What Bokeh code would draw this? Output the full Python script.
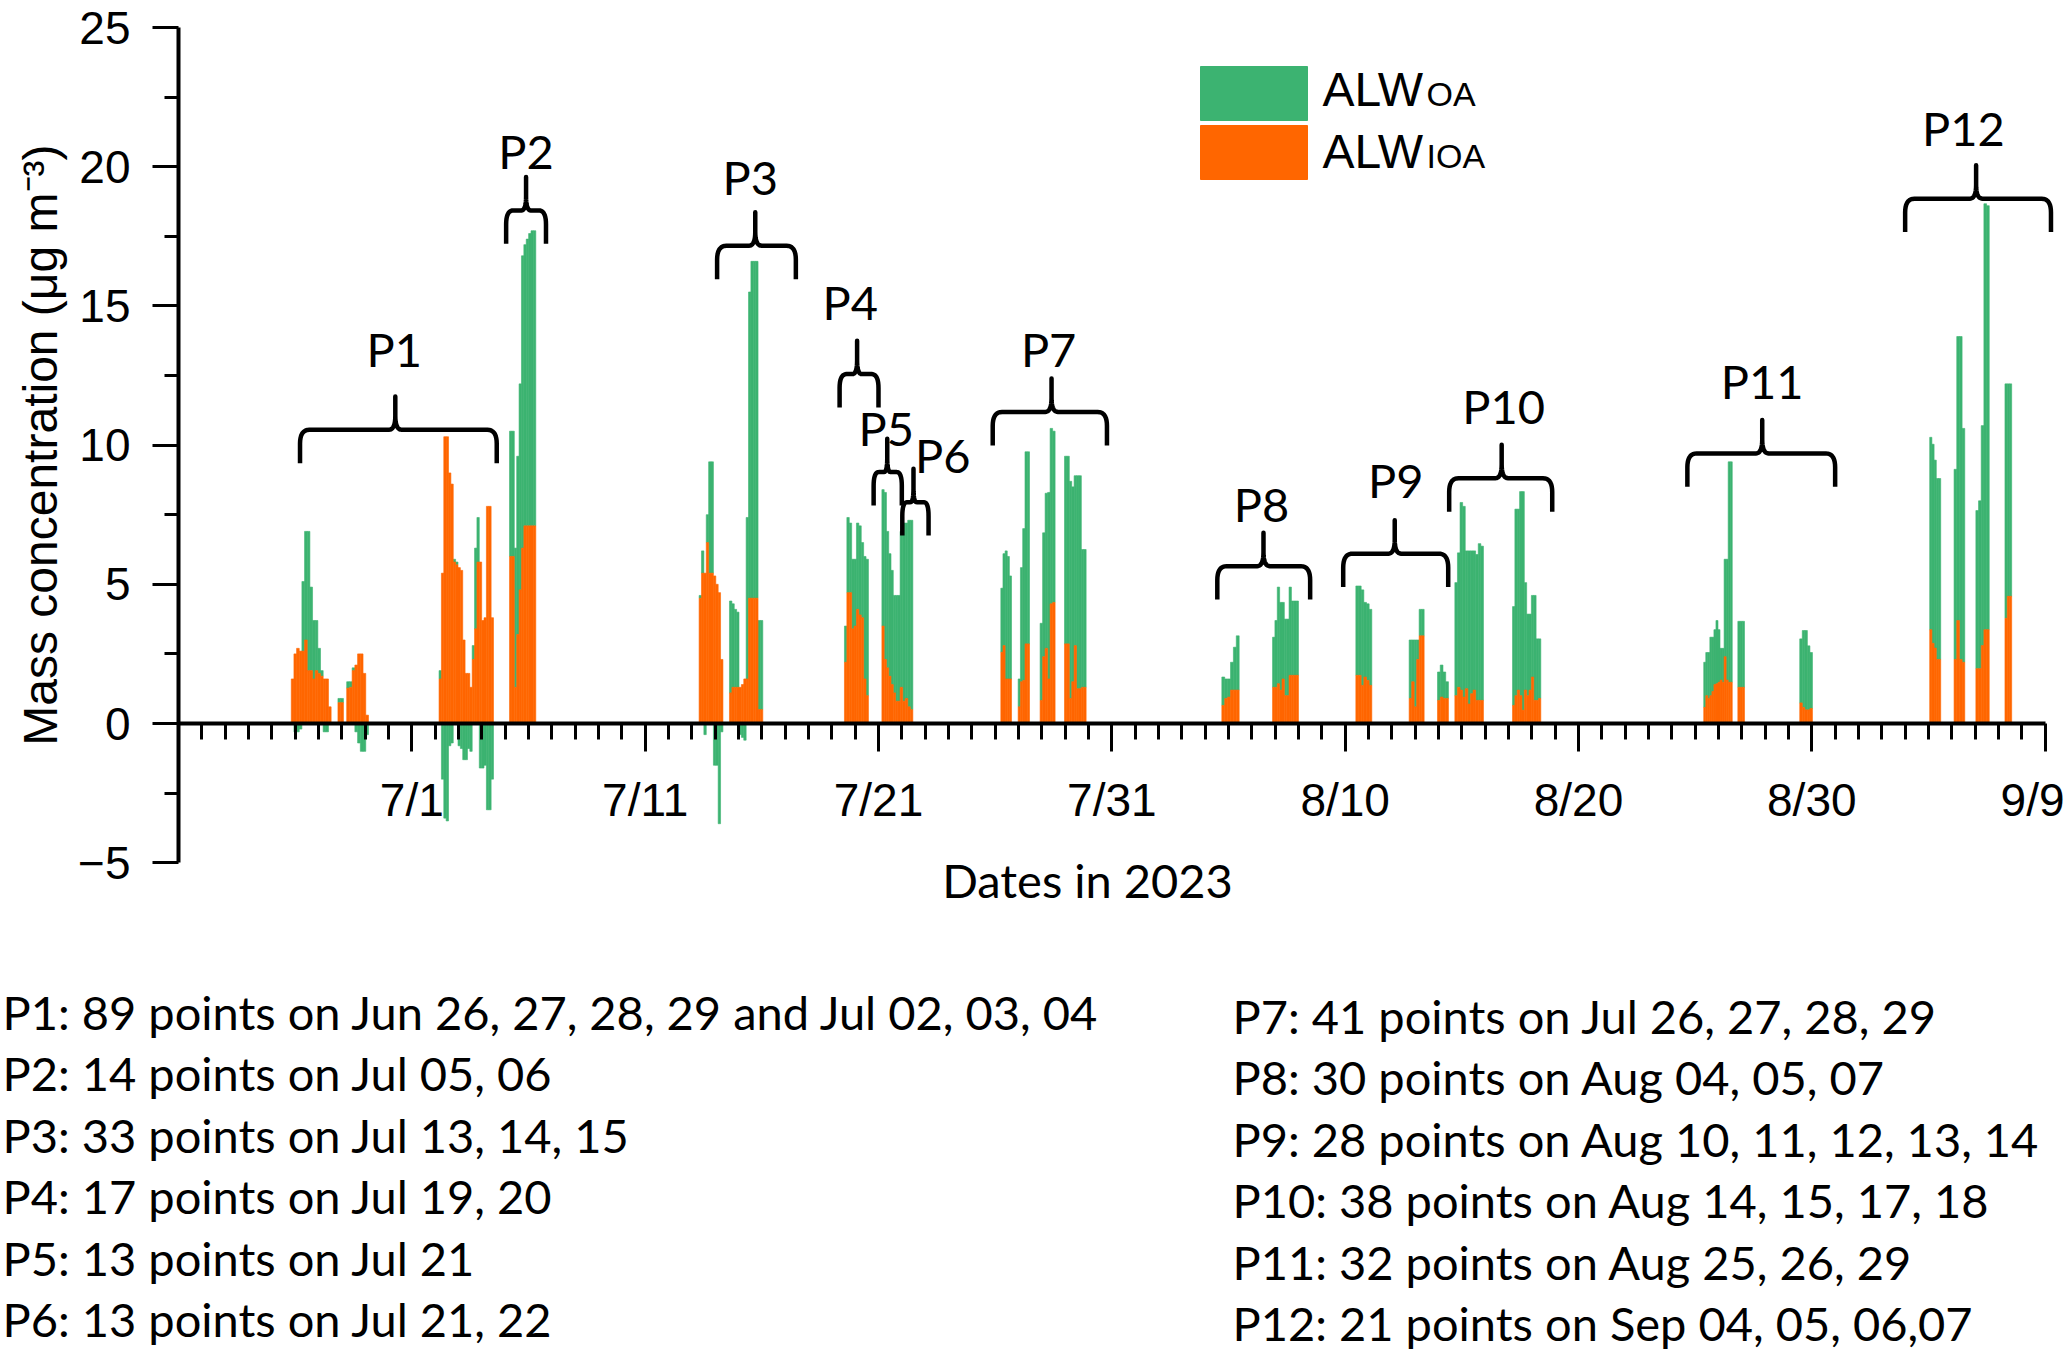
import numpy as np
import pandas as pd
from bokeh.plotting import figure
from bokeh.models import Range1d, FixedTicker
from bokeh.core.properties import value
from bokeh.embed import file_html
from bokeh.resources import INLINE

# ---------------- data ----------------
ORIGIN = "2023-06-21 00:00"

x_tick_days = [10, 20, 30, 40, 50, 60, 70, 80]
x_tick_labels = ["7/1", "7/11", "7/21", "7/31", "8/10", "8/20", "8/30", "9/9"]
y_ticks = [-5, 0, 5, 10, 15, 20, 25]
y_minor = [-2.5, 2.5, 7.5, 12.5, 17.5, 22.5]

# each run of bars: start, end, ALW_IOA values, ALW_OA values
p1a_start, p1a_end = "2023-06-25 20:00", "2023-06-27 13:00"
p1a_ioa = [1.6, 2.5, 2.7, 2.6, 2.6, 3.0, 1.9, 1.9, 1.6, 1.9, 1.8, 1.7, 1.6, 1.6, 0.6]
p1a_oa = [0.0, -0.3, -0.3, -0.2, 2.5, 3.9, 5.0, 3.0, 2.1, 1.8, 0.9, 0.2, -0.3, -0.3, 0.0]

p1b_start, p1b_end = "2023-06-27 20:00", "2023-06-28 01:40"
p1b_ioa = [0.75, 0.75]
p1b_oa = [0.15, 0.15]

p1c_start, p1c_end = "2023-06-28 05:00", "2023-06-29 03:25"
p1c_ioa = [1.27, 1.3, 1.9, 2.1, 2.5, 2.5, 1.8, 0.3]
p1c_oa = [0.23, 0.2, 0.1, -0.3, -0.7, -1.0, -1.0, -0.4]

p1d_start, p1d_end = "2023-07-02 04:00", "2023-07-04 12:00"
p1d_ioa = [1.6, 5.4, 10.3, 10.3, 9.0, 8.6, 5.8, 5.7, 5.6, 5.5, 3.0, 1.8,
           1.8, 1.3, 2.3, 3.4, 5.8, 5.8, 3.7, 3.8, 7.8, 7.8, 3.8]
p1d_oa = [0.3, -2.0, -3.4, -3.5, -0.8, -0.7, 0.1, 0.1, -0.8, -0.9, -1.3, -1.3,
          -0.9, -1.0, 0.5, 2.9, 1.6, -1.6, -1.6, -1.5, -3.1, -3.1, -2.0]

p2_start, p2_end = "2023-07-05 04:30", "2023-07-06 07:30"
p2_ioa = [6.0, 6.0, 1.3, 3.2, 4.8, 6.3, 7.1, 7.1, 7.1, 7.1, 7.1]
p2_oa = [4.5, 4.5, 5.0, 6.4, 7.4, 10.5, 10.1, 10.3, 10.5, 10.6, 10.6]

p3a_start, p3a_end = "2023-07-13 07:30", "2023-07-14 08:00"
p3a_ioa = [4.5, 5.4, 5.4, 6.5, 5.4, 5.4, 5.3, 5.0, 4.7, 2.3]
p3a_oa = [0.1, 0.8, -0.4, 1.0, 4.0, 4.0, -1.5, -1.5, -3.6, -0.3]

p3b_start, p3b_end = "2023-07-14 14:45", "2023-07-16 01:00"
p3b_ioa = [1.1, 1.3, 1.3, 1.3, 1.3, 1.4, 1.6, 1.6, 4.5, 4.5, 4.5, 4.5, 0.5, 0.5]
p3b_oa = [3.3, 3.0, 2.8, 2.7, -0.4, -0.5, -0.6, 5.8, 11.0, 12.1, 12.1, 12.1, 3.2, 3.2]

p4_start, p4_end = "2023-07-19 13:00", "2023-07-20 13:40"
p4_ioa = [2.2, 4.7, 4.7, 3.4, 3.5, 4.1, 3.9, 3.8, 1.6, 1.0]
p4_oa = [1.3, 2.7, 2.5, 2.5, 2.4, 3.1, 3.2, 2.7, 4.4, 4.9]

p5_start, p5_end = "2023-07-21 03:30", "2023-07-21 22:15"
p5_ioa = [3.5, 2.3, 2.0, 1.7, 1.4, 1.1, 0.8, 0.8]
p5_oa = [4.9, 6.0, 4.9, 4.4, 4.1, 3.5, 3.8, 3.8]

p6_start, p6_end = "2023-07-21 22:15", "2023-07-22 11:20"
p6_ioa = [1.3, 0.8, 0.9, 0.6, 0.5]
p6_oa = [5.6, 6.4, 6.3, 6.7, 6.8]

p7a_start, p7a_end = "2023-07-26 05:50", "2023-07-26 16:50"
p7a_ioa = [2.56, 2.8, 1.6, 1.6, 1.6]
p7a_oa = [2.3, 3.3, 4.6, 4.4, 3.7]

p7b_start, p7b_end = "2023-07-26 23:40", "2023-07-27 11:20"
p7b_ioa = [0.6, 1.5, 1.55, 2.86, 2.86]
p7b_oa = [1.0, 4.1, 5.45, 6.9, 6.9]

p7c_start, p7c_end = "2023-07-27 22:15", "2023-07-28 13:40"
p7c_ioa = [0.83, 2.4, 2.7, 1.6, 4.3, 4.35]
p7c_oa = [2.77, 4.45, 5.57, 6.7, 6.3, 6.15]

p7d_start, p7d_end = "2023-07-28 23:20", "2023-07-29 21:35"
p7d_ioa = [2.86, 2.86, 0.9, 1.5, 2.8, 1.25, 1.25, 1.3, 1.3]
p7d_oa = [6.74, 6.74, 7.8, 7.0, 6.1, 7.65, 7.65, 4.95, 4.95]

p8a_start, p8a_end = "2023-08-04 17:10", "2023-08-05 11:00"
p8a_ioa = [0.65, 0.9, 0.95, 1.2, 1.2, 1.2]
p8a_oa = [1.02, 0.7, 0.65, 1.0, 1.54, 1.95]

p8b_start, p8b_end = "2023-08-06 21:20", "2023-08-08 00:00"
p8b_ioa = [1.3, 1.3, 1.43, 1.2, 1.6, 1.0, 1.0, 1.73, 1.73, 1.73, 1.73]
p8b_oa = [1.8, 2.4, 3.47, 3.15, 2.75, 2.75, 2.75, 3.17, 2.67, 2.67, 2.67]

p9a_start, p9a_end = "2023-08-10 11:00", "2023-08-11 03:25"
p9a_ioa = [1.73, 1.73, 1.37, 1.67, 1.55, 1.37]
p9a_oa = [3.21, 3.21, 3.43, 2.68, 2.75, 2.73]

p9b_start, p9b_end = "2023-08-12 17:50", "2023-08-13 09:15"
p9b_ioa = [0.9, 1.5, 0.6, 2.3, 3.15, 3.15]
p9b_oa = [2.1, 1.5, 2.4, 0.7, 0.95, 0.95]

p9c_start, p9c_end = "2023-08-13 23:00", "2023-08-14 10:15"
p9c_ioa = [0.83, 0.95, 0.9, 0.9]
p9c_oa = [1.02, 1.15, 0.95, 0.6]

p10a_start, p10a_end = "2023-08-14 16:50", "2023-08-15 22:15"
p10a_ioa = [1.0, 1.3, 1.2, 0.95, 1.25, 0.7, 1.07, 1.2, 0.83, 0.83, 0.83]
p10a_oa = [4.06, 4.83, 6.74, 6.85, 4.95, 5.5, 5.13, 5.0, 5.24, 5.63, 5.54]

p10b_start, p10b_end = "2023-08-17 04:10", "2023-08-18 09:15"
p10b_ioa = [0.65, 1.0, 1.2, 1.0, 0.48, 1.2, 1.0, 1.2, 1.67, 0.83, 0.83, 0.9]
p10b_oa = [3.55, 6.7, 6.5, 7.33, 7.85, 3.86, 2.93, 2.73, 2.93, 3.77, 2.21, 2.14]

p11a_start, p11a_end = "2023-08-25 08:50", "2023-08-26 14:10"
p11a_ioa = [0.58, 1.0, 0.9, 1.0, 1.15, 1.4, 1.43, 1.48, 1.56, 1.48, 2.4, 1.56, 1.48, 1.48]
p11a_oa = [1.62, 1.55, 1.65, 2.1, 1.95, 1.97, 2.27, 1.89, 1.14, 1.22, 3.5, 4.34, 7.92, 7.92]

p11b_start, p11b_end = "2023-08-26 19:55", "2023-08-27 02:45"
p11b_ioa = [1.3, 1.3, 1.3]
p11b_oa = [2.37, 2.37, 2.37]

p11c_start, p11c_end = "2023-08-29 11:35", "2023-08-30 00:40"
p11c_ioa = [0.74, 0.58, 0.49, 0.49, 0.54]
p11c_oa = [2.3, 2.76, 2.85, 2.3, 2.01]

p12a_start, p12a_end = "2023-09-04 01:15", "2023-09-04 12:35"
p12a_ioa = [3.37, 2.88, 2.71, 2.3, 2.3]
p12a_oa = [6.91, 7.15, 6.75, 6.5, 6.5]

p12b_start, p12b_end = "2023-09-05 02:20", "2023-09-05 13:20"
p12b_ioa = [2.3, 3.7, 2.3, 2.2]
p12b_oa = [6.83, 10.2, 11.6, 8.4]

p12c_start, p12c_end = "2023-09-06 00:45", "2023-09-06 14:30"
p12c_ioa = [1.97, 1.97, 2.8, 3.37, 3.37]
p12c_oa = [5.68, 6.03, 7.9, 15.3, 15.23]

p12d_start, p12d_end = "2023-09-07 06:40", "2023-09-07 13:35"
p12d_ioa = [3.78, 4.57, 4.57]
p12d_oa = [8.42, 7.63, 7.63]

# period brackets: label, left end, right end, tip, level of the bracket
period_labels = ["P1", "P2", "P3", "P4", "P5", "P6", "P7", "P8", "P9", "P10", "P11", "P12"]
bracket_x0 = ["2023-06-26 05:00", "2023-07-05 01:00", "2023-07-14 02:00", "2023-07-19 08:00",
              "2023-07-20 19:00", "2023-07-22 00:30", "2023-07-25 21:30", "2023-08-04 12:30",
              "2023-08-09 22:00", "2023-08-14 11:00", "2023-08-24 16:00", "2023-09-03 00:00"]
bracket_x1 = ["2023-07-04 15:20", "2023-07-06 18:00", "2023-07-17 11:00", "2023-07-21 00:00",
              "2023-07-22 00:00", "2023-07-23 03:30", "2023-07-30 19:00", "2023-08-08 12:00",
              "2023-08-14 10:00", "2023-08-18 21:00", "2023-08-31 00:00", "2023-09-09 06:00"]
bracket_tip = ["2023-06-30 07:00", "2023-07-05 21:30", "2023-07-15 17:15", "2023-07-20 02:00",
               "2023-07-21 09:00", "2023-07-22 12:00", "2023-07-28 10:00", "2023-08-06 12:00",
               "2023-08-12 03:00", "2023-08-16 17:00", "2023-08-27 21:00", "2023-09-06 01:00"]
bracket_level = [10.55, 18.43, 17.16, 12.55, 9.03, 7.95, 11.19, 5.65, 6.1, 8.81, 9.7, 18.85]
label_x = ["2023-06-30 06:00", "2023-07-05 21:30", "2023-07-15 12:00", "2023-07-19 19:00",
           "2023-07-21 08:00", "2023-07-23 18:00", "2023-07-28 07:00", "2023-08-06 10:00",
           "2023-08-12 04:00", "2023-08-16 19:00", "2023-08-27 21:00", "2023-09-05 12:00"]
label_y = [12.85, 19.95, 19.04, 14.53, 10.0, 9.03, 12.86, 7.26, 8.15, 10.8, 11.68, 20.77]

legend_main = ["ALW", "ALW"]
legend_sub = ["OA", "IOA"]

x_title = "Dates in 2023"
y_title = "Mass concentration (μg m⁻³)"

notes_left = ["P1: 89 points on Jun 26, 27, 28, 29 and Jul 02, 03, 04",
              "P2: 14 points on Jul 05, 06",
              "P3: 33 points on Jul 13, 14, 15",
              "P4: 17 points on Jul 19, 20",
              "P5: 13 points on Jul 21",
              "P6: 13 points on Jul 21, 22"]
notes_right = ["P7: 41 points on Jul 26, 27, 28, 29",
               "P8: 30 points on Aug 04, 05, 07",
               "P9: 28 points on Aug 10, 11, 12, 13, 14",
               "P10: 38 points on Aug 14, 15, 17, 18",
               "P11: 32 points on Aug 25, 26, 29",
               "P12: 21 points on Sep 04, 05, 06,07"]

runs = [
    (p1a_start, p1a_end, p1a_ioa, p1a_oa), (p1b_start, p1b_end, p1b_ioa, p1b_oa),
    (p1c_start, p1c_end, p1c_ioa, p1c_oa), (p1d_start, p1d_end, p1d_ioa, p1d_oa),
    (p2_start, p2_end, p2_ioa, p2_oa),
    (p3a_start, p3a_end, p3a_ioa, p3a_oa), (p3b_start, p3b_end, p3b_ioa, p3b_oa),
    (p4_start, p4_end, p4_ioa, p4_oa), (p5_start, p5_end, p5_ioa, p5_oa),
    (p6_start, p6_end, p6_ioa, p6_oa),
    (p7a_start, p7a_end, p7a_ioa, p7a_oa), (p7b_start, p7b_end, p7b_ioa, p7b_oa),
    (p7c_start, p7c_end, p7c_ioa, p7c_oa), (p7d_start, p7d_end, p7d_ioa, p7d_oa),
    (p8a_start, p8a_end, p8a_ioa, p8a_oa), (p8b_start, p8b_end, p8b_ioa, p8b_oa),
    (p9a_start, p9a_end, p9a_ioa, p9a_oa), (p9b_start, p9b_end, p9b_ioa, p9b_oa),
    (p9c_start, p9c_end, p9c_ioa, p9c_oa),
    (p10a_start, p10a_end, p10a_ioa, p10a_oa), (p10b_start, p10b_end, p10b_ioa, p10b_oa),
    (p11a_start, p11a_end, p11a_ioa, p11a_oa), (p11b_start, p11b_end, p11b_ioa, p11b_oa),
    (p11c_start, p11c_end, p11c_ioa, p11c_oa),
    (p12a_start, p12a_end, p12a_ioa, p12a_oa), (p12b_start, p12b_end, p12b_ioa, p12b_oa),
    (p12c_start, p12c_end, p12c_ioa, p12c_oa), (p12d_start, p12d_end, p12d_ioa, p12d_oa),
]

# ---------------- styling / layout ----------------
GREEN = "#3CB371"
ORANGE = "#FF6600"
W, H = 2064, 1350
X0_PX = 178.0          # pixel of Jun 21 (y axis)
PX_DAY = 23.333        # pixels per day
Y0_PX = 723.0          # pixel of y = 0
PX_UNIT = 27.84        # pixels per ug/m3
CAP = 0.36             # half cap-height / font size: texts are centred on their capitals


def d(s):
    return (pd.Timestamp(s) - pd.Timestamp(ORIGIN)) / pd.Timedelta(days=1)


def px_x(px):
    return (px - X0_PX) / PX_DAY


def px_y(py):
    return (Y0_PX - py) / PX_UNIT


def base_y(baseline_py, size):
    """data y of the cap-centre of a text whose baseline is at pixel row baseline_py"""
    return px_y(baseline_py - CAP * size)


# the frame covers the whole canvas; both axes sit at fixed data locations
p = figure(width=W, height=H,
           x_range=Range1d(px_x(0), px_x(W)), y_range=Range1d(px_y(H), px_y(0)),
           output_backend="svg", toolbar_location=None,
           min_border_left=0, min_border_right=0, min_border_top=0, min_border_bottom=0)
p.grid.visible = False
p.outline_line_color = None
p.background_fill_color = "white"
p.border_fill_color = "white"

# bars
ol, orr, ot = [], [], []
gl, gr, gb, gt = [], [], [], []
for start, end, ioa, oa in runs:
    s, e = d(start), d(end)
    w = (e - s) / len(ioa)
    for i, (a, b) in enumerate(zip(ioa, oa)):
        left, right = s + i * w, s + (i + 1) * w
        ol.append(left); orr.append(right); ot.append(a)
        if b > 0:
            gl.append(left); gr.append(right); gb.append(a); gt.append(a + b)
        elif b < 0:
            gl.append(left); gr.append(right); gb.append(b); gt.append(0)

p.quad(left=gl, right=gr, bottom=gb, top=gt, fill_color=GREEN, line_color=GREEN, line_width=0.6)
p.quad(left=ol, right=orr, bottom=0, top=ot, fill_color=ORANGE, line_color=ORANGE, line_width=0.6)


def qbez(p0, c, p1, n=10):
    t = np.linspace(0, 1, n)
    xs = (1 - t) ** 2 * p0[0] + 2 * (1 - t) * t * c[0] + t ** 2 * p1[0]
    ys = (1 - t) ** 2 * p0[1] + 2 * (1 - t) * t * c[1] + t ** 2 * p1[1]
    return list(xs), list(ys)


bx, by = [], []
DROP, RISE = 1.2, 1.2
for x0s, x1s, xps, yh in zip(bracket_x0, bracket_x1, bracket_tip, bracket_level):
    x0, x1, xp = d(x0s), d(x1s), d(xps)
    wid = x1 - x0
    cx = min(0.4, wid * 0.18)
    nx = min(0.28, wid * 0.12)
    cy, ny = 0.5, 0.5
    xs, ys = [x0], [yh - DROP]
    a, b = qbez((x0, yh - cy), (x0, yh), (x0 + cx, yh)); xs += a; ys += b
    a, b = qbez((xp - nx, yh), (xp, yh), (xp, yh + ny)); xs += a; ys += b
    xs.append(xp); ys.append(yh + RISE)
    a, b = qbez((xp, yh + ny), (xp, yh), (xp + nx, yh)); xs += a; ys += b
    a, b = qbez((x1 - cx, yh), (x1, yh), (x1, yh - cy)); xs += a; ys += b
    xs.append(x1); ys.append(yh - DROP)
    bx.append(xs); by.append(ys)
p.multi_line(xs=bx, ys=by, line_color="black", line_width=4.5, line_join="round")

LBL = 47
p.text(x=[d(s) for s in label_x], y=[v + CAP * LBL / PX_UNIT for v in label_y], text=period_labels,
       text_font=value("Lato"), text_font_size=f"{LBL}px", text_align="center",
       text_baseline="middle", text_color="black")

# legend (drawn by hand to get the small-caps subscripts)
p.quad(left=[px_x(1200)], right=[px_x(1307)], bottom=[px_y(120)], top=[px_y(66)],
       fill_color=GREEN, line_color=GREEN)
p.quad(left=[px_x(1200)], right=[px_x(1307)], bottom=[px_y(179)], top=[px_y(125)],
       fill_color=ORANGE, line_color=ORANGE)
p.text(x=[px_x(1322)] * 2, y=[base_y(106, 48), base_y(168, 48)], text=legend_main,
       text_font=value("Liberation Sans"), text_font_size="48px",
       text_baseline="middle", text_align="left")
p.text(x=[px_x(1322)] * 2, y=[base_y(106, 34), base_y(168, 34)], text=legend_sub, x_offset=104,
       text_font=value("Liberation Sans"), text_font_size="34px",
       text_baseline="middle", text_align="left")

# axes
xa = p.xaxis[0]
xa.fixed_location = 0
xa.bounds = (0, 80)
xa.ticker = FixedTicker(ticks=x_tick_days, minor_ticks=list(range(1, 80)))
xa.major_label_overrides = {t: lab for t, lab in zip(x_tick_days, x_tick_labels)}
xa.axis_line_width = 4
xa.major_tick_line_width = 3
xa.minor_tick_line_width = 3
xa.major_tick_in = 0
xa.major_tick_out = 28
xa.minor_tick_in = 0
xa.minor_tick_out = 16
xa.major_label_text_font = "Liberation Sans"
xa.major_label_text_font_size = "46px"
xa.major_label_text_color = "black"
xa.major_label_standoff = 22

ya = p.yaxis[0]
ya.fixed_location = 0
ya.bounds = (-5, 25)
ya.ticker = FixedTicker(ticks=y_ticks, minor_ticks=y_minor)
ya.axis_line_width = 4
ya.major_tick_line_width = 3
ya.minor_tick_line_width = 3
ya.major_tick_in = 0
ya.major_tick_out = 26
ya.minor_tick_in = 0
ya.minor_tick_out = 14
ya.major_label_text_font = "Liberation Sans"
ya.major_label_text_font_size = "46px"
ya.major_label_text_color = "black"
ya.major_label_standoff = 22

# axis titles
p.text(x=[px_x(1087)], y=[base_y(896, 47)], text=[x_title], text_font=value("Lato"),
       text_font_size="47px", text_align="center", text_baseline="middle",
       text_color="black")
p.text(x=[px_x(40)], y=[10], text=[y_title], angle=np.pi / 2,
       text_font=value("Liberation Sans"), text_font_size="48px", text_align="center",
       text_baseline="middle", text_color="black")

# notes under the chart
NOTE = 47
p.text(x=[px_x(2)] * len(notes_left),
       y=[base_y(1028 + i * 61.5, NOTE) for i in range(len(notes_left))],
       text=notes_left, text_font=value("Lato"), text_font_size=f"{NOTE}px",
       text_align="left", text_baseline="middle", text_color="black")
p.text(x=[px_x(1232)] * len(notes_right),
       y=[base_y(1032 + i * 61.5, NOTE) for i in range(len(notes_right))],
       text=notes_right, text_font=value("Lato"), text_font_size=f"{NOTE}px",
       text_align="left", text_baseline="middle", text_color="black")

open("out.html", "w").write(file_html(p, INLINE))
